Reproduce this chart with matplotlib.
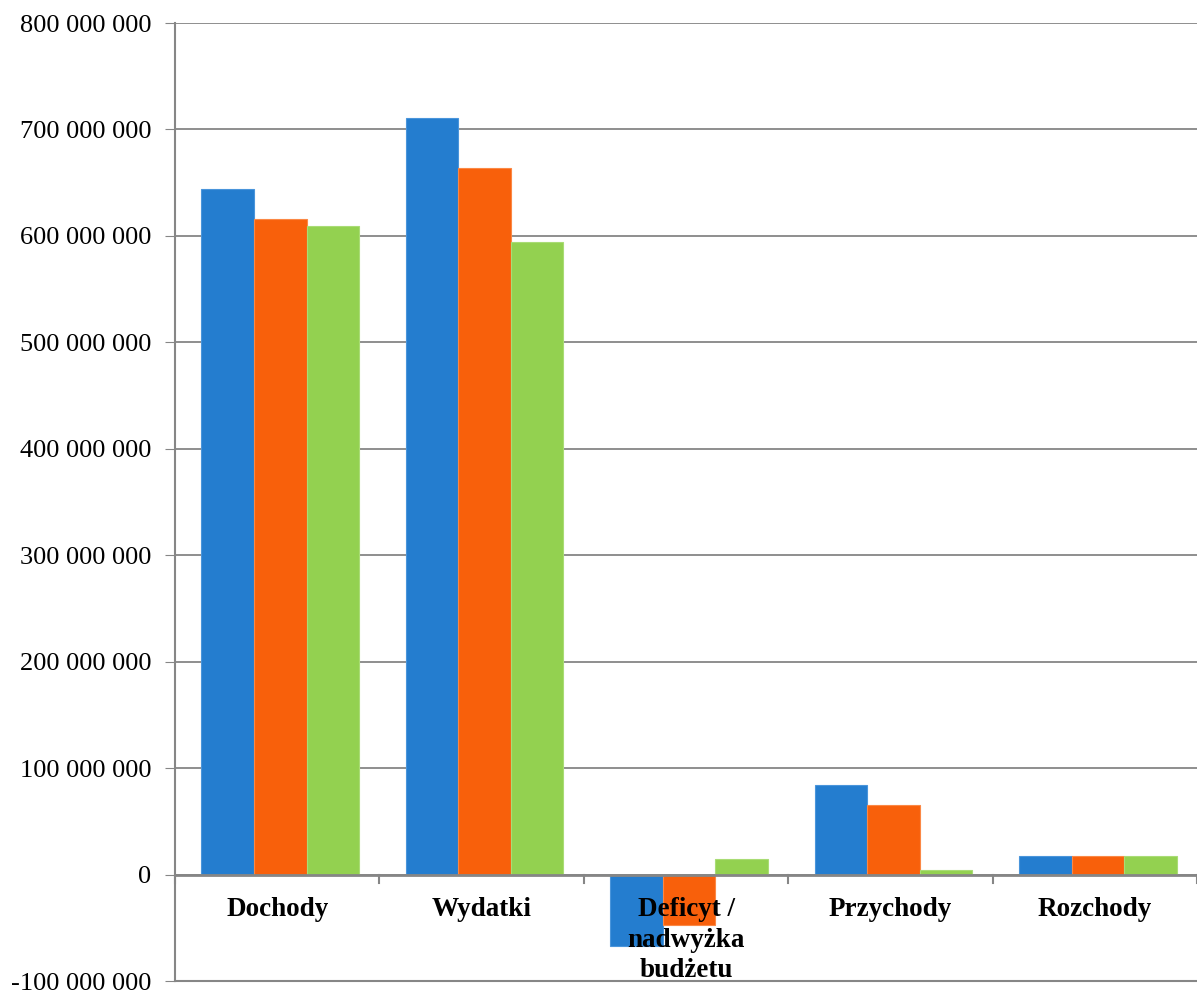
import numpy as np
import matplotlib.pyplot as plt
from matplotlib.ticker import FuncFormatter

# data
categories = ['Dochody', 'Wydatki', 'Deficyt /\nnadwyżka\nbudżetu', 'Przychody', 'Rozchody']
series_a = [644e6, 711e6, -67e6, 84.5e6, 17e6]
series_b = [616e6, 664e6, -47e6, 65e6, 17e6]
series_c = [609e6, 594e6, 15e6, 4.5e6, 17e6]
colors = ['#247DCF', '#F8600B', '#93D150']
edges = ['#4A95DB', '#FB8845', '#A9DC75']

plt.rcParams['font.family'] = ['Liberation Serif', 'DejaVu Serif']

fig = plt.figure(figsize=(11.97, 9.9), dpi=100)
ax = fig.add_axes([175 / 1197, 9 / 990, 1 - 175 / 1197, (981 - 23) / 990])

x = np.arange(len(categories))
w = 0.257
for i, (vals, c, e) in enumerate(zip([series_a, series_b, series_c], colors, edges)):
    ax.bar(x + (i - 1) * w + 0.015, vals, width=w, color=c, edgecolor=e, linewidth=0.8, zorder=3)

ax.set_xlim(-0.5, len(categories) - 0.5)
ax.set_ylim(-100e6, 800e6)
ax.set_yticks(np.arange(-100e6, 800e6 + 1, 100e6))
ax.yaxis.set_major_formatter(FuncFormatter(lambda v, p: f'{int(round(v)):,}'.replace(',', ' ')))
ax.tick_params(axis='y', labelsize=19, length=7, color='#868686', pad=10)
ax.grid(axis='y', color='#868686', linewidth=1.3, zorder=0)

# zero line with category boundary ticks
ax.axhline(0, color='#868686', linewidth=2, zorder=4)
for b in np.arange(-0.5, len(categories), 1.0):
    ax.plot([b, b], [0, -8e6], color='#868686', linewidth=1.5, zorder=4, clip_on=False)

ax.set_xticks([])
for xi, lab in zip(x, categories):
    ax.text(xi, -21e6, lab, ha='center', va='top', fontsize=19.5, fontweight='bold',
            linespacing=1.3, zorder=5)

for s in ['top', 'right']:
    ax.spines[s].set_visible(False)
ax.spines['left'].set_color('#868686')
ax.spines['left'].set_linewidth(1.5)
ax.spines['bottom'].set_color('#868686')
ax.spines['bottom'].set_linewidth(1.5)

fig.savefig('out.png', dpi=100)
